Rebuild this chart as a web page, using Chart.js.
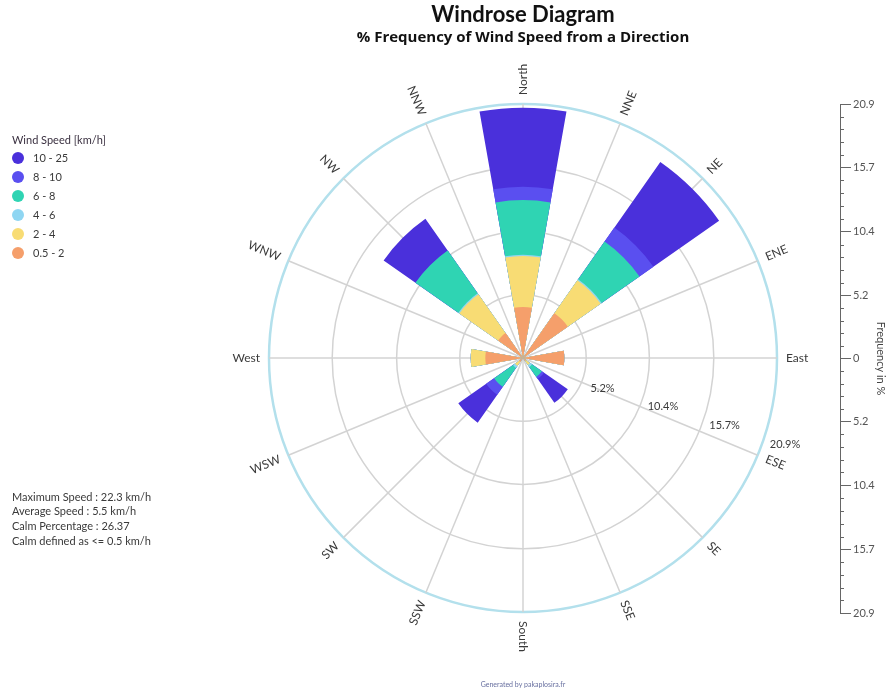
<!DOCTYPE html>
<html><head><meta charset="utf-8">
<script src="https://cdn.jsdelivr.net/npm/chart.js@4.4.1/dist/chart.umd.min.js"></script>
<style>html,body{margin:0;padding:0;background:#fff}#wrap{width:890px;height:698px;position:relative}</style>
</head><body><div id="wrap"><canvas id="c"></canvas></div>
<script>
// ---- data ----
const directions = ['North','NNE','NE','ENE','East','ESE','SE','SSE','South','SSW','SW','WSW','West','WNW','NW','NNW'];
const speedClasses = ['0.5 - 2','2 - 4','4 - 6','6 - 8','8 - 10','10 - 25'];
// % frequency of each speed class per direction
const freq_0_5_2 = [4.2, 0, 4.5, 0, 3.4, 0, 0.3, 0, 0, 0, 0.4, 0, 3.1, 0, 2.5, 0];
const freq_2_4   = [4.2, 0, 3.3, 0, 0,   0, 0.4, 0, 0, 0, 0.4, 0, 1.2, 0, 3.9, 0];
const freq_4_6   = [0.1, 0, 0.1, 0, 0,   0, 0.2, 0, 0, 0, 0.2, 0, 0,   0, 0.1, 0];
const freq_6_8   = [4.5, 0, 3.8, 0, 0,   0, 1.0, 0, 0, 0, 1.9, 0, 0,   0, 4.3, 0];
const freq_8_10  = [1.1, 0, 1.4, 0, 0,   0, 0.2, 0, 0, 0, 0.8, 0, 0,   0, 0,   0];
const freq_10_25 = [6.5, 0, 6.6, 0, 0,   0, 2.4, 0, 0, 0, 2.8, 0, 0,   0, 3.2, 0];
const classColors = ['#f59f6b', '#f8dc74', '#8fd6f2', '#2fd4b3', '#5a4ff0', '#4a30db'];
const ringValues = [0, 5.2, 10.4, 15.7, 20.9];
const ringLabels = ['5.2%', '10.4%', '15.7%', '20.9%'];
const axisValues = [-20.9, -15.7, -10.4, -5.2, 0, 5.2, 10.4, 15.7, 20.9];
const axisLabels = ['20.9', '15.7', '10.4', '5.2', '0', '5.2', '10.4', '15.7', '20.9'];
const legendTitle = 'Wind Speed [km/h]';
const statsLines = ['Maximum Speed : 22.3 km/h', 'Average Speed : 5.5 km/h', 'Calm Percentage : 26.37', 'Calm defined as <= 0.5 km/h'];
const footerText = 'Generated by pakaplosira.fr';

// stacked (cumulative) radii, smallest class drawn on top
const classSeries = [freq_0_5_2, freq_2_4, freq_4_6, freq_6_8, freq_8_10, freq_10_25];
const datasets = classSeries.map((s, k) => ({
  label: speedClasses[k],
  data: directions.map((d, i) => classSeries.slice(0, k + 1).reduce((a, arr) => a + arr[i], 0)),
  backgroundColor: classColors[k],
  borderWidth: 0,
  rAxisID: 'r'
}));

const FONT = 'Lato';
Chart.defaults.font.family = FONT;

const wedgeGap = {
  id: 'wedgeGap',
  afterDatasetsUpdate(chart) {
    const g = 1.25 * Math.PI / 180;
    chart.data.datasets.forEach((ds, i) => {
      chart.getDatasetMeta(i).data.forEach(a => { a.startAngle += g; a.endAngle -= g; });
    });
  }
};

const decorations = {
  id: 'decorations',
  afterDraw(chart) {
    const ctx = chart.ctx;
    const r = chart.scales.r, rd = chart.scales.rDir, y = chart.scales.y;
    ctx.save();
    // direction labels, rotated radially
    ctx.font = '12px ' + FONT; ctx.fillStyle = '#3a3a3a'; ctx.textBaseline = 'middle';
    directions.forEach((d, i) => {
      const p = rd.getPointPosition(i, rd.drawingArea + 9);
      const flip = i > 8;
      ctx.save(); ctx.translate(p.x, p.y);
      ctx.rotate(flip ? p.angle + Math.PI : p.angle);
      ctx.textAlign = flip ? 'right' : 'left';
      ctx.fillText(d, 0, 0);
      ctx.restore();
    });
    // ring labels
    ctx.font = '11px ' + FONT;
    const a = 17 * Math.PI / 180;
    ctx.textAlign = 'center';
    ringValues.slice(1).forEach((v, k) => {
      const dd = r.getDistanceFromCenterForValue(v) + 20;
      ctx.fillText(ringLabels[k], r.xCenter + dd * Math.cos(a), r.yCenter + 6 + dd * Math.sin(a));
    });
    // minor ticks on right axis
    ctx.strokeStyle = '#666'; ctx.lineWidth = 1;
    for (let k = 0; k < axisValues.length - 1; k++) {
      for (let m = 1; m < 5; m++) {
        const v = axisValues[k] + (axisValues[k + 1] - axisValues[k]) * m / 5;
        const py = Math.round(y.getPixelForValue(v)) + 0.5;
        ctx.beginPath(); ctx.moveTo(y.left, py); ctx.lineTo(y.left + 4, py); ctx.stroke();
      }
    }
    // legend
    ctx.textAlign = 'left';
    ctx.fillStyle = '#3a3040';
    ctx.font = '11px ' + FONT;
    ctx.fillText(legendTitle, 12, 140);
    for (let row = 0; row < speedClasses.length; row++) {
      const k = speedClasses.length - 1 - row;
      const yy = 158 + row * 19;
      ctx.beginPath(); ctx.arc(18, yy, 6, 0, Math.PI * 2);
      ctx.fillStyle = classColors[k]; ctx.fill();
      ctx.fillStyle = '#3a3a3a';
      ctx.fillText(speedClasses[k], 33, yy);
    }
    // stats
    statsLines.forEach((t, k) => ctx.fillText(t, 12, 497 + k * 14.7));
    // footer
    ctx.font = '7px ' + FONT; ctx.fillStyle = '#6870a0'; ctx.textAlign = 'center';
    ctx.fillText(footerText, r.xCenter, 685);
    ctx.restore();
  }
};

new Chart(document.getElementById('c'), {
  type: 'polarArea',
  data: { labels: directions, datasets },
  options: {
    responsive: true, maintainAspectRatio: false, devicePixelRatio: 1, animation: false,
    layout: { padding: { top: 0, left: 206, right: 0, bottom: 85 } },
    plugins: {
      legend: { display: false },
      tooltip: { enabled: false },
      title: { display: true, fullSize: false, text: 'Windrose Diagram', color: '#111',
               font: { family: FONT, size: 22, weight: 'bold' }, padding: { top: 2, bottom: 0 } },
      subtitle: { display: true, fullSize: false, text: '% Frequency of Wind Speed from a Direction', color: '#111',
               font: { family: 'Open Sans', size: 15, weight: 'bold' }, padding: { top: 0, bottom: 57.6 } }
    },
    scales: {
      r: {
        type: 'radialLinear', axis: 'r', startAngle: -11.25, min: 0, max: 20.9,
        afterBuildTicks: s => { s.ticks = ringValues.map(v => ({ value: v })); },
        ticks: { display: false },
        pointLabels: { display: false },
        angleLines: { display: false },
        grid: { circular: true,
                color: c => c.index === ringValues.length - 1 ? '#b3e0ec' : '#d3d3d3',
                lineWidth: c => c.index === ringValues.length - 1 ? 2.5 : 1.5 }
      },
      rDir: {
        type: 'radialLinear', axis: 'r', startAngle: 0, min: 0, max: 20.9,
        ticks: { display: false },
        pointLabels: { display: false },
        grid: { display: false },
        angleLines: { display: true, color: '#d3d3d3', lineWidth: 1.5 }
      },
      y: {
        type: 'linear', position: 'right', min: -20.9, max: 20.9,
        afterBuildTicks: s => { s.ticks = axisValues.map(v => ({ value: v })); },
        afterFit: s => { s.width = 50; },
        grid: { drawOnChartArea: false, tickLength: 11, color: '#666', tickColor: '#666', tickWidth: 1 },
        border: { color: '#666', width: 1 },
        ticks: { padding: 2, color: '#555', font: { family: FONT, size: 11 },
                 autoSkip: false, callback: (v, i) => axisLabels[i] },
        title: { display: true, text: 'Frequency in %', color: '#444', font: { family: FONT, size: 11 },
                 padding: { top: 3, bottom: 0 } }
      }
    }
  },
  plugins: [wedgeGap, decorations]
});
</script></body></html>
